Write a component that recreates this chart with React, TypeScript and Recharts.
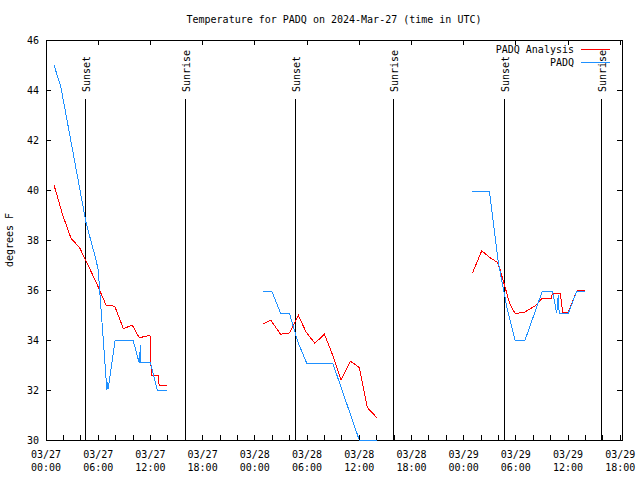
import React from 'react';
import { ComposedChart, Line, XAxis, YAxis, ReferenceLine, ReferenceArea, Legend } from 'recharts';

const FONT = "'DejaVu Sans Mono', 'Liberation Mono', monospace";
const W = 640;
const H = 480;
const MARGIN = { top: 40, right: 18, bottom: 0, left: 0 };
const Y_AXIS_W = 46;
const X_AXIS_H = 40;
const PLOT_LEFT = MARGIN.left + Y_AXIS_W;
const PLOT_RIGHT = W - MARGIN.right;
const PLOT_TOP = MARGIN.top;
const PLOT_BOTTOM = H - MARGIN.bottom - X_AXIS_H;
const TICK_LEN = 5;

const title = 'Temperature for PADQ on 2024-Mar-27 (time in UTC)';
const yLabel = 'degrees F';

const X_DOMAIN: [number, number] = [0, 66.2];
const Y_DOMAIN: [number, number] = [30, 46];
const yTicks = [30, 32, 34, 36, 38, 40, 42, 44, 46];
const xTicks = [0, 2, 4, 6, 8, 10, 12, 14, 16, 18, 20, 22, 24, 26, 28, 30, 32, 34, 36, 38, 40, 42, 44, 46, 48, 50, 52, 54, 56, 58, 60, 62, 64, 66];
const xLabelHours = [0, 6, 12, 18, 24, 30, 36, 42, 48, 54, 60, 66];
const xLabelDates = ['03/27', '03/27', '03/27', '03/27', '03/28', '03/28', '03/28', '03/28', '03/29', '03/29', '03/29', '03/29'];
const xLabelTimes = ['00:00', '06:00', '12:00', '18:00', '00:00', '06:00', '12:00', '18:00', '00:00', '06:00', '12:00', '18:00'];

const sunHours = [4.55, 16.0, 28.65, 39.9, 52.68, 63.9];
const sunLabels = ['Sunset', 'Sunrise', 'Sunset', 'Sunrise', 'Sunset', 'Sunrise'];
const SUN_LINE_TOP = 43.64;

const seriesNames = ['PADQ Analysis', 'PADQ'];
const seriesColors = ['#ff0000', '#1e90ff'];

// PADQ Analysis (hours since 03/27 00:00 UTC, degrees F)
const analysisPart1: [number, number][] = [
  [0.92, 40.2], [1.92, 39.0], [2.87, 38.07], [3.85, 37.7], [4.9, 36.95], [5.9, 36.2],
  [6.9, 35.4], [7.9, 35.35], [8.9, 34.45], [9.9, 34.6], [10.7, 34.1], [11.3, 34.13],
  [11.95, 34.2], [12.1, 32.6], [12.9, 32.6], [13.0, 32.2], [13.95, 32.2],
];
const analysisPart2: [number, number][] = [
  [24.98, 34.64], [25.83, 34.79], [26.97, 34.23], [27.97, 34.28], [29.0, 34.99], [29.9, 34.31],
  [30.9, 33.87], [32.0, 34.23], [32.9, 33.44], [33.9, 32.4], [35.0, 33.15], [36.0, 32.9],
  [36.93, 31.3], [38.0, 30.9],
];
const analysisPart3: [number, number][] = [
  [49.0, 36.67], [50.08, 37.57], [51.0, 37.3], [51.9, 37.1], [52.2, 36.8], [53.3, 35.45],
  [53.9, 35.07], [54.9, 35.09], [56.2, 35.36], [57.05, 35.67], [58.05, 35.67], [58.2, 35.87],
  [59.1, 35.87], [59.4, 35.09], [60.0, 35.09], [61.0, 35.96], [61.4, 36.0], [62.0, 36.0],
];

// PADQ observations
const obsPart1: [number, number][] = [
  [0.92, 45.0], [1.72, 44.1], [4.6, 38.7], [5.75, 37.2], [6.0, 36.8], [7.0, 32.0],
  [7.08, 32.3], [7.15, 32.05], [7.95, 34.0], [10.0, 34.0], [10.7, 33.1], [10.88, 33.8],
  [10.92, 33.1], [12.0, 33.1], [12.8, 32.0], [13.95, 32.0],
];
const obsPart2: [number, number][] = [
  [24.98, 35.96], [25.94, 35.96], [26.97, 35.07], [27.97, 35.07], [28.97, 33.9], [29.96, 33.08],
  [32.95, 33.08], [36.0, 30.0], [38.0, 30.0],
];
const obsPart3: [number, number][] = [
  [49.0, 39.95], [50.96, 39.95], [52.0, 37.07], [53.0, 35.26], [53.9, 34.0], [55.06, 34.0],
  [57.05, 35.96], [58.2, 35.96], [58.7, 35.07], [58.88, 35.8], [58.98, 35.07], [60.04, 35.07],
  [61.0, 35.96], [62.0, 35.96],
];

type Row = { h: number; t: number | null };
function joinParts(parts: [number, number][][]): Row[] {
  const rows: Row[] = [];
  parts.forEach((p, i) => {
    if (i > 0) rows.push({ h: p[0][0], t: null });
    p.forEach(([h, t]) => rows.push({ h, t }));
  });
  return rows;
}

const analysisRows = joinParts([analysisPart1, analysisPart2, analysisPart3]);
const obsRows = joinParts([obsPart1, obsPart2, obsPart3]);

const YTick = (props: any) => {
  const { y, payload } = props;
  const v = payload.value;
  const inner = v !== Y_DOMAIN[0] && v !== Y_DOMAIN[1];
  return (
    <g>
      <text x={PLOT_LEFT - 7} y={y} dy={3.5} textAnchor="end" fontFamily={FONT} fontSize={10} fill="#000">
        {v}
      </text>
      {inner && (
        <>
          <line x1={PLOT_LEFT} x2={PLOT_LEFT + TICK_LEN} y1={y} y2={y} stroke="#000" shapeRendering="crispEdges" />
          <line x1={PLOT_RIGHT} x2={PLOT_RIGHT - TICK_LEN} y1={y} y2={y} stroke="#000" shapeRendering="crispEdges" />
        </>
      )}
    </g>
  );
};

const XTick = (props: any) => {
  const { x, payload } = props;
  const v = payload.value;
  const idx = xLabelHours.indexOf(v);
  const edge = v === X_DOMAIN[0];
  return (
    <g>
      {!edge && (
        <line x1={x} x2={x} y1={PLOT_BOTTOM} y2={PLOT_BOTTOM - TICK_LEN} stroke="#000" shapeRendering="crispEdges" />
      )}
      {idx >= 0 && !edge && (
        <line x1={x} x2={x} y1={PLOT_TOP} y2={PLOT_TOP + TICK_LEN} stroke="#000" shapeRendering="crispEdges" />
      )}
      {idx >= 0 && (
        <text textAnchor="middle" fontFamily={FONT} fontSize={10} fill="#000">
          <tspan x={x} y={PLOT_BOTTOM + 18}>{xLabelDates[idx]}</tspan>
          <tspan x={x} y={PLOT_BOTTOM + 31}>{xLabelTimes[idx]}</tspan>
        </text>
      )}
    </g>
  );
};

const renderLegend = (props: any) => {
  const payload = [...(props.payload || [])].sort(
    (a: any, b: any) => seriesNames.indexOf(a.value) - seriesNames.indexOf(b.value)
  );
  return (
    <div style={{ fontFamily: FONT, fontSize: 10, lineHeight: '13px', color: '#000' }}>
      {payload.map((entry: any, i: number) => (
        <div key={i} style={{ display: 'flex', justifyContent: 'flex-end', alignItems: 'center', height: 13 }}>
          <span>{entry.value}</span>
          <svg width={36} height={13} style={{ display: 'block' }}>
            <line x1={7} x2={36} y1={6.5} y2={6.5} stroke={entry.color} shapeRendering="crispEdges" />
          </svg>
        </div>
      ))}
    </div>
  );
};

const sunShape = (label: string) => (p: any) => {
  const top = Math.min(p.y1, p.y2);
  const bot = Math.max(p.y1, p.y2);
  const tx = p.x1 + 4.5;
  const ty = top - 7;
  return (
    <g>
      <line x1={p.x1} x2={p.x1} y1={top} y2={bot} stroke="#000" strokeWidth={1} shapeRendering="crispEdges" />
      <text x={tx} y={ty} transform={`rotate(-90 ${tx} ${ty})`} textAnchor="start" fontFamily={FONT} fontSize={10} fill="#000">
        {label}
      </text>
    </g>
  );
};

export default function App() {
  return (
    <div style={{ position: 'absolute', left: 0, top: 0, width: W, height: H, background: '#fff' }}>
      <ComposedChart width={W} height={H} margin={MARGIN}>
        <XAxis
          dataKey="h"
          type="number"
          domain={X_DOMAIN}
          ticks={xTicks}
          interval={0}
          axisLine={false}
          tickLine={false}
          height={X_AXIS_H}
          tick={<XTick />}
        />
        <YAxis
          type="number"
          domain={Y_DOMAIN}
          ticks={yTicks}
          interval={0}
          axisLine={false}
          tickLine={false}
          width={Y_AXIS_W}
          tick={<YTick />}
          label={() => {
            const cx = 13;
            const cy = (PLOT_TOP + PLOT_BOTTOM) / 2;
            return (
              <text x={cx} y={cy} transform={`rotate(-90 ${cx} ${cy})`} textAnchor="middle" fontFamily={FONT} fontSize={10} fill="#000">
                {yLabel}
              </text>
            );
          }}
        />
        <ReferenceArea
          x1={X_DOMAIN[0]}
          x2={X_DOMAIN[1]}
          y1={Y_DOMAIN[0]}
          y2={Y_DOMAIN[1]}
          shape={(p: any) => (
            <rect x={p.x} y={p.y} width={p.width} height={p.height} fill="none" stroke="#000" shapeRendering="crispEdges" />
          )}
        />
        {sunHours.map((h, i) => (
          <ReferenceLine
            key={i}
            segment={[{ x: h, y: SUN_LINE_TOP }, { x: h, y: Y_DOMAIN[0] }]}
            shape={sunShape(sunLabels[i])}
          />
        ))}
        <Line
          data={analysisRows}
          dataKey="t"
          name={seriesNames[0]}
          stroke={seriesColors[0]}
          strokeWidth={1}
          shapeRendering="crispEdges"
          dot={false}
          activeDot={false}
          type="linear"
          connectNulls={false}
          isAnimationActive={false}
        />
        <Line
          data={obsRows}
          dataKey="t"
          name={seriesNames[1]}
          stroke={seriesColors[1]}
          strokeWidth={1}
          shapeRendering="crispEdges"
          dot={false}
          activeDot={false}
          type="linear"
          connectNulls={false}
          isAnimationActive={false}
        />
        <Legend
          layout="horizontal"
          verticalAlign="middle"
          align="center"
          wrapperStyle={{ top: 43, left: 440, width: 170, height: 26 }}
          content={renderLegend}
        />
        <text x={(PLOT_LEFT + PLOT_RIGHT) / 2} y={23} textAnchor="middle" fontFamily={FONT} fontSize={10} fill="#000">
          {title}
        </text>
      </ComposedChart>
    </div>
  );
}
